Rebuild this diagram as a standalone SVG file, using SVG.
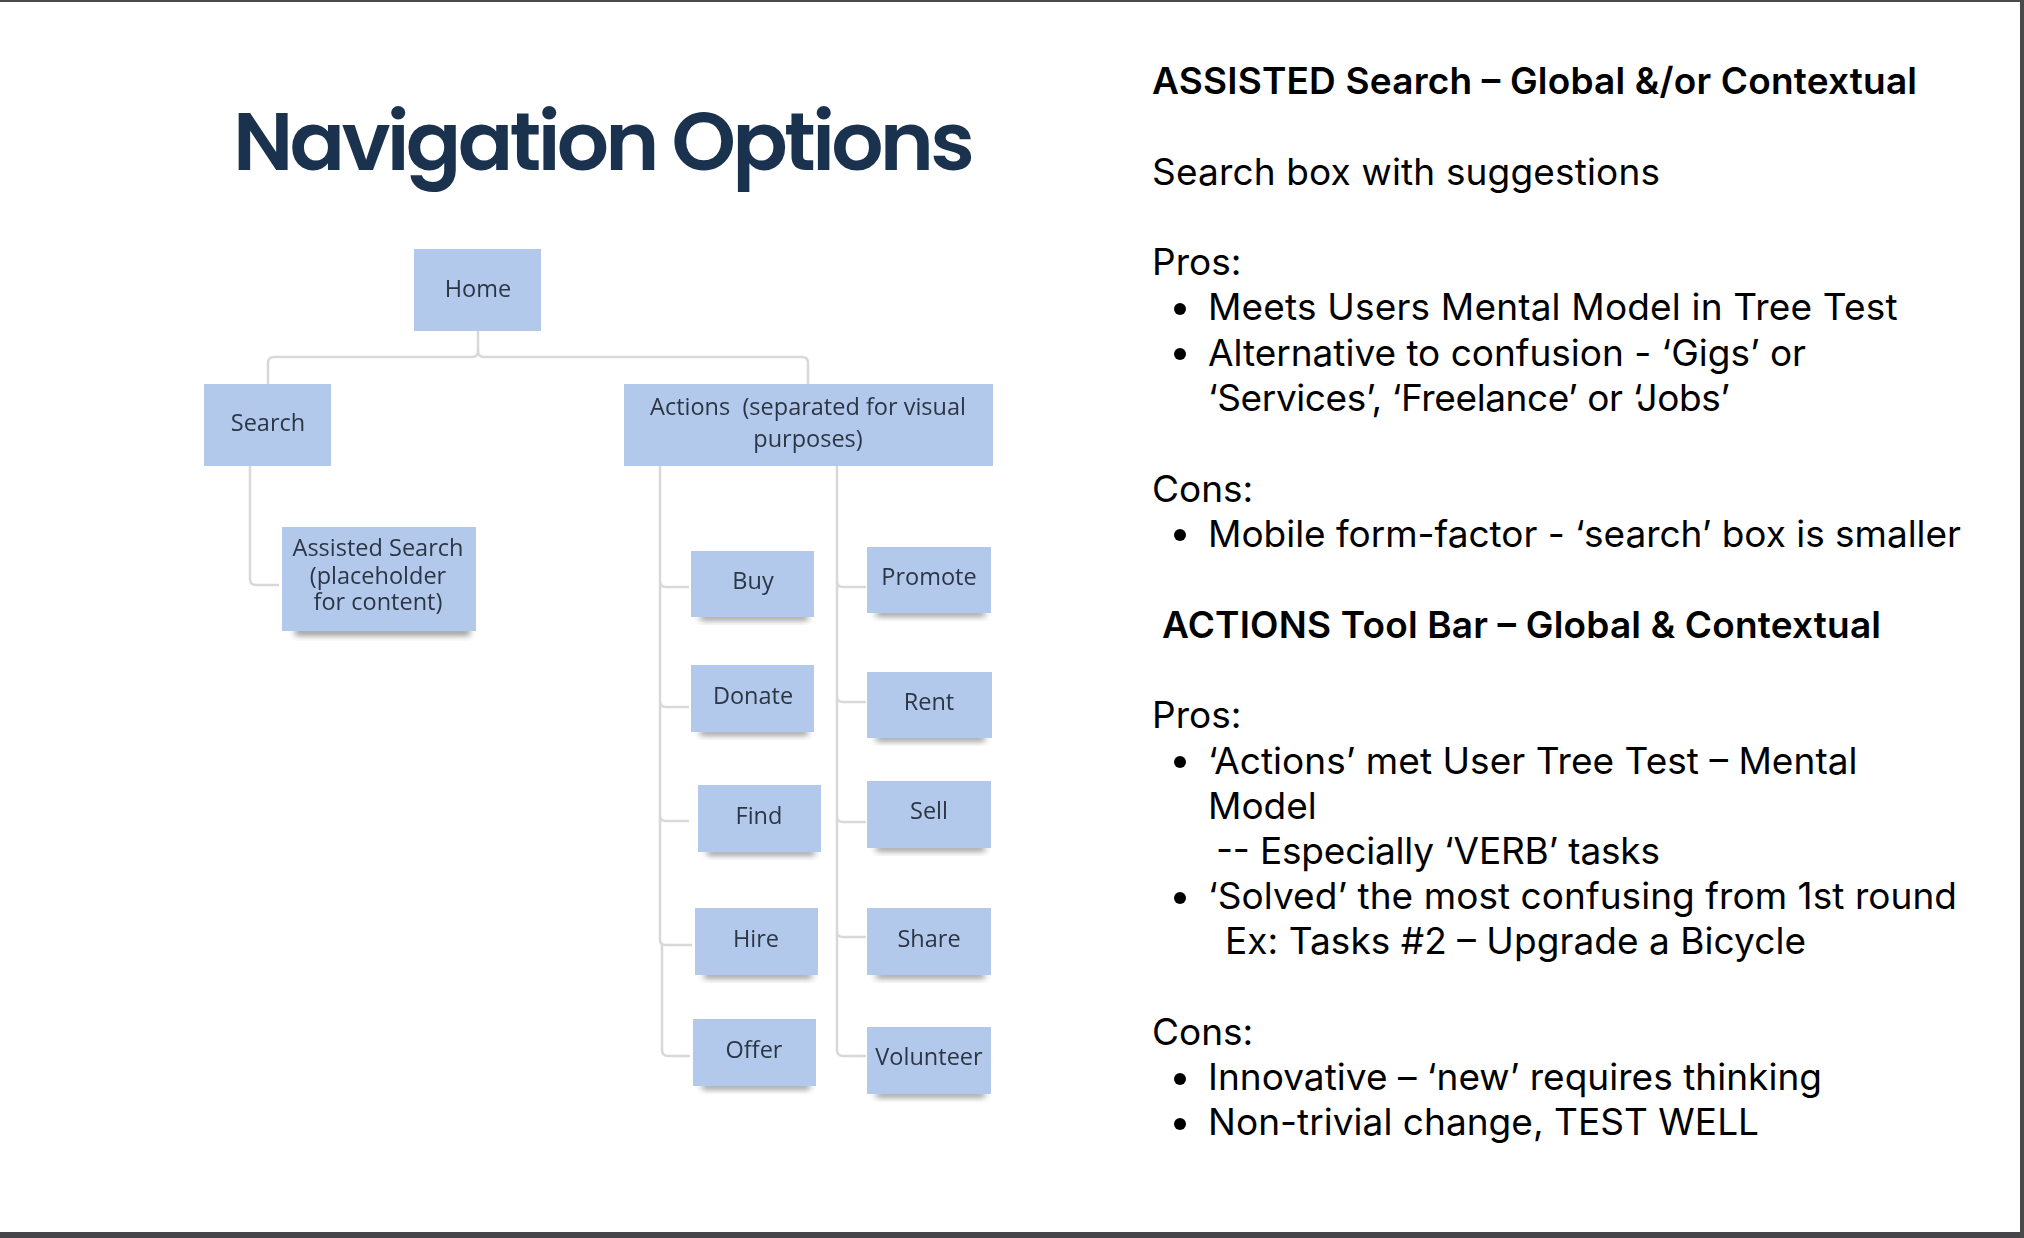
<svg xmlns="http://www.w3.org/2000/svg" width="2024" height="1238" viewBox="0 0 2024 1238">
<style>
.n{fill:#b3c9ec}
.t{font-family:"Open Sans","Noto Sans",sans-serif;font-size:23.5px;fill:#2c3644;text-anchor:middle;white-space:pre}
.c{fill:none;stroke:#d8d8d8;stroke-width:2.5}
.b{font-family:Inter,"Liberation Sans",sans-serif;font-size:37px;fill:#000}
.h{font-weight:600}
.s{fill:#2b2b2b;opacity:.6}
</style>
<defs>
<filter id="blur" x="-20%" y="-20%" width="140%" height="140%"><feGaussianBlur stdDeviation="0.6"/></filter>
<filter id="sh" x="-20%" y="-100%" width="140%" height="300%"><feGaussianBlur stdDeviation="3"/></filter>
</defs>
<rect width="2024" height="1238" fill="#fff"/>
<rect width="2024" height="2" fill="#4a4a4a"/>
<rect y="1232" width="2024" height="6" fill="#46464a"/>
<rect x="2020" width="4" height="1238" fill="#4a4a4a"/>
<text x="233" y="170" font-family="Poppins,Inter,'Liberation Sans',sans-serif" font-size="82" font-weight="600" fill="#1b324f" textLength="742" lengthAdjust="spacing">Navigation Options</text>
<g id="connectors" filter="url(#blur)">
<path class="c" d="M478 331V351Q478 357 472 357H274Q268 357 268 363V384"/>
<path class="c" d="M478 351Q478 357 484 357H802Q808 357 808 363V384"/>
<path class="c" d="M250 466V579Q250 585 256 585H279"/>
<path class="c" d="M660 466V940Q660 945 666 945H692"/>
<path class="c" d="M660 582Q660 587 666 587H689"/>
<path class="c" d="M660 702Q660 707 666 707H689"/>
<path class="c" d="M660 816Q660 821 666 821H689"/>
<path class="c" d="M662 945V1050Q662 1056 668 1056H690"/>
<path class="c" d="M837 466V1050Q837 1056 843 1056H866"/>
<path class="c" d="M837 582Q837 587 843 587H866"/>
<path class="c" d="M837 697Q837 702 843 702H866"/>
<path class="c" d="M837 817Q837 822 843 822H866"/>
<path class="c" d="M837 932Q837 937 843 937H866"/>
</g>
<g id="home" filter="url(#blur)"><rect class="n" x="414" y="249" width="127" height="82"/><text class="t" x="478" y="297">Home</text></g>
<g id="search" filter="url(#blur)"><rect class="n" x="204" y="384" width="127" height="82"/><text class="t" x="268" y="431">Search</text></g>
<g id="actions" filter="url(#blur)"><rect class="n" x="624" y="384" width="369" height="82"/><text class="t" x="808" y="415">Actions  (separated for visual</text><text class="t" x="808" y="447">purposes)</text></g>
<g id="assisted-search"><rect class="s" x="295" y="629" width="175" height="6" filter="url(#sh)"/><g filter="url(#blur)"><rect class="n" x="282" y="527" width="194" height="104"/><text class="t" x="378" y="556">Assisted Search</text><text class="t" x="378" y="584">(placeholder</text><text class="t" x="378" y="610">for content)</text></g></g>
<g id="buy"><rect class="s" x="700" y="615" width="108" height="5" filter="url(#sh)"/><g filter="url(#blur)"><rect class="n" x="691" y="551" width="123" height="66"/><text class="t" x="753" y="589">Buy</text></g></g>
<g id="donate"><rect class="s" x="700" y="730" width="108" height="5" filter="url(#sh)"/><g filter="url(#blur)"><rect class="n" x="691" y="665" width="123" height="67"/><text class="t" x="753" y="704">Donate</text></g></g>
<g id="find"><rect class="s" x="707" y="850" width="108" height="5" filter="url(#sh)"/><g filter="url(#blur)"><rect class="n" x="698" y="785" width="123" height="67"/><text class="t" x="759" y="824">Find</text></g></g>
<g id="hire"><rect class="s" x="704" y="973" width="108" height="5" filter="url(#sh)"/><g filter="url(#blur)"><rect class="n" x="695" y="908" width="123" height="67"/><text class="t" x="756" y="947">Hire</text></g></g>
<g id="offer"><rect class="s" x="702" y="1084" width="108" height="5" filter="url(#sh)"/><g filter="url(#blur)"><rect class="n" x="693" y="1019" width="123" height="67"/><text class="t" x="754" y="1058">Offer</text></g></g>
<g id="promote"><rect class="s" x="876" y="611" width="109" height="5" filter="url(#sh)"/><g filter="url(#blur)"><rect class="n" x="867" y="547" width="124" height="66"/><text class="t" x="929" y="585">Promote</text></g></g>
<g id="rent"><rect class="s" x="876" y="736" width="109" height="5" filter="url(#sh)"/><g filter="url(#blur)"><rect class="n" x="867" y="672" width="125" height="66"/><text class="t" x="929" y="710">Rent</text></g></g>
<g id="sell"><rect class="s" x="876" y="846" width="109" height="5" filter="url(#sh)"/><g filter="url(#blur)"><rect class="n" x="867" y="781" width="124" height="67"/><text class="t" x="929" y="819">Sell</text></g></g>
<g id="share"><rect class="s" x="876" y="973" width="109" height="5" filter="url(#sh)"/><g filter="url(#blur)"><rect class="n" x="867" y="908" width="124" height="67"/><text class="t" x="929" y="947">Share</text></g></g>
<g id="volunteer"><rect class="s" x="876" y="1092" width="109" height="5" filter="url(#sh)"/><g filter="url(#blur)"><rect class="n" x="867" y="1027" width="124" height="67"/><text class="t" x="929" y="1065">Volunteer</text></g></g>
<g id="notes">
<text class="b h" x="1152" y="94" textLength="765">ASSISTED Search – Global &amp;/or Contextual</text>
<text class="b" x="1152" y="185" textLength="508">Search box with suggestions</text>
<text class="b" x="1152" y="275">Pros:</text>
<circle cx="1180" cy="309" r="6"/><text class="b" x="1208" y="320" textLength="689.5">Meets Users Mental Model in Tree Test</text>
<circle cx="1180" cy="354" r="6"/><text class="b" x="1208" y="366" textLength="598">Alternative to confusion - ‘Gigs’ or</text>
<text class="b" x="1208" y="411" textLength="522">‘Services’, ‘Freelance’ or ‘Jobs’</text>
<text class="b" x="1152" y="502">Cons:</text>
<circle cx="1180" cy="535" r="6"/><text class="b" x="1208" y="547" textLength="753">Mobile form-factor - ‘search’ box is smaller</text>
<text class="b h" x="1162" y="638" textLength="719">ACTIONS Tool Bar – Global &amp; Contextual</text>
<text class="b" x="1152" y="728">Pros:</text>
<circle cx="1180" cy="762" r="6"/><text class="b" x="1208" y="774" textLength="649.5">‘Actions’ met User Tree Test – Mental</text>
<text class="b" x="1208" y="819">Model</text>
<text class="b" x="1216" y="864" textLength="444">-- Especially ‘VERB’ tasks</text>
<circle cx="1180" cy="898" r="6"/><text class="b" x="1208" y="909" textLength="749">‘Solved’ the most confusing from 1st round</text>
<text class="b" x="1225" y="954" textLength="581">Ex: Tasks #2 – Upgrade a Bicycle</text>
<text class="b" x="1152" y="1045">Cons:</text>
<circle cx="1180" cy="1079" r="6"/><text class="b" x="1208" y="1090" textLength="614">Innovative – ‘new’ requires thinking</text>
<circle cx="1180" cy="1124" r="6"/><text class="b" x="1208" y="1135" textLength="551">Non-trivial change, TEST WELL</text>
</g>
</svg>
